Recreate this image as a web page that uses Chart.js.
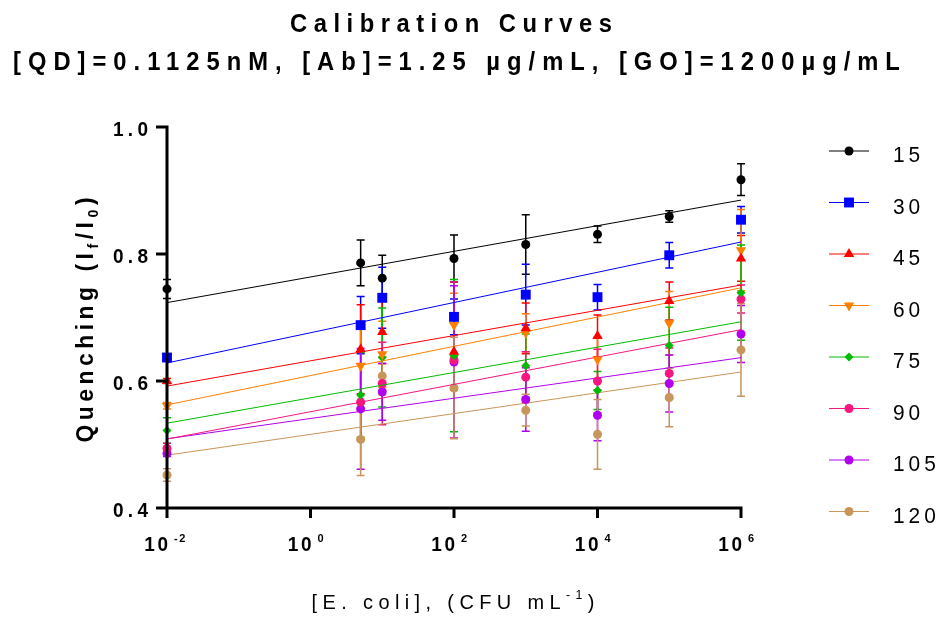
<!DOCTYPE html>
<html>
<head>
<meta charset="utf-8">
<script src="https://cdn.jsdelivr.net/npm/chart.js@4.4.0/dist/chart.umd.min.js"></script>
<style>
  html, body { margin: 0; padding: 0; background: #fff; }
  #wrap { width: 943px; height: 617px; position: relative; }
</style>
</head>
<body>
<div id="wrap"><canvas id="calib"></canvas></div>
<script>
// E. coli concentration (CFU/mL)
const concentrations = [0.01, 5, 10, 100, 1000, 10000, 100000, 1000000];
const xTickExponents = [-2, 0, 2, 4, 6];
const yTickValues = [0.4, 0.6, 0.8, 1.0];

const seriesLabels = ['15', '30', '45', '60', '75', '90', '105', '120'];

// quenching (If/I0)
const q15  = [0.745, 0.786, 0.762, 0.793, 0.815, 0.831, 0.859, 0.917];
const q30  = [0.637, 0.688, 0.731, 0.701, 0.736, 0.732, 0.798, 0.854];
const q45  = [0.600, 0.650, 0.677, 0.646, 0.683, 0.671, 0.726, 0.793];
const q60  = [0.561, 0.624, 0.642, 0.688, 0.676, 0.634, 0.691, 0.806];
const q75  = [0.522, 0.578, 0.637, 0.640, 0.624, 0.585, 0.656, 0.739];
const q90  = [0.494, 0.567, 0.596, 0.633, 0.606, 0.600, 0.612, 0.729];
const q105 = [0.486, 0.556, 0.583, 0.630, 0.571, 0.546, 0.596, 0.674];
const q120 = [0.452, 0.508, 0.608, 0.589, 0.554, 0.516, 0.574, 0.649];

// error (+/-)
const e15  = [0.015, 0.036, 0.036, 0.037, 0.047, 0.013, 0.009, 0.025];
const e30  = [0.004, 0.045, 0.048, 0.028, 0.048, 0.020, 0.020, 0.021];
const e45  = [0.004, 0.070, 0.050, 0.060, 0.040, 0.033, 0.030, 0.036];
const e60  = [0.005, 0.060, 0.052, 0.050, 0.030, 0.035, 0.050, 0.064];
const e75  = [0.020, 0.067, 0.078, 0.120, 0.050, 0.030, 0.060, 0.075];
const e90  = [0.008, 0.060, 0.065, 0.123, 0.040, 0.050, 0.040, 0.022];
const e105 = [0.005, 0.095, 0.045, 0.120, 0.050, 0.040, 0.045, 0.045];
const e120 = [0.010, 0.057, 0.030, 0.080, 0.025, 0.055, 0.046, 0.073];

const allValues = [q15, q30, q45, q60, q75, q90, q105, q120];
const allErrors = [e15, e30, e45, e60, e75, e90, e105, e120];

const colors = ['#000000', '#0000ff', '#ff0000', '#ff8000', '#00bb00', '#f5167f', '#b000ee', '#c8955a'];
const markers = [
  { style: 'circle', radius: 4.5, rotation: 0 },
  { style: 'rect', radius: 7, rotation: 0 },
  { style: 'triangle', radius: 6, rotation: 0 },
  { style: 'triangle', radius: 6, rotation: 180 },
  { style: 'rectRot', radius: 4.5, rotation: 0 },
  { style: 'circle', radius: 4.5, rotation: 0 },
  { style: 'circle', radius: 4.5, rotation: 0 },
  { style: 'circle', radius: 4.5, rotation: 0 }
];

const FONT = '"Liberation Sans", Arial, sans-serif';

// least squares fit of y against log10(x), like the original's fitted lines
function fitLine(xs, ys) {
  const lx = xs.map(v => Math.log10(v));
  const n = lx.length;
  const mx = lx.reduce((a, b) => a + b, 0) / n;
  const my = ys.reduce((a, b) => a + b, 0) / n;
  let sxy = 0, sxx = 0;
  for (let i = 0; i < n; i++) {
    sxy += (lx[i] - mx) * (ys[i] - my);
    sxx += (lx[i] - mx) * (lx[i] - mx);
  }
  const slope = sxy / sxx;
  const x0 = xs[0], x1 = xs[n - 1];
  return [
    { x: x0, y: my + slope * (Math.log10(x0) - mx) },
    { x: x1, y: my + slope * (Math.log10(x1) - mx) }
  ];
}

const datasets = [];
seriesLabels.forEach((label, i) => {
  datasets.push({
    type: 'scatter',
    label: label,
    data: concentrations.map((c, j) => ({ x: c, y: allValues[i][j] })),
    errors: allErrors[i],
    backgroundColor: colors[i],
    borderColor: colors[i],
    borderWidth: 0,
    pointStyle: markers[i].style,
    pointRadius: markers[i].radius,
    pointRotation: markers[i].rotation,
    pointHoverRadius: markers[i].radius,
    showLine: false,
    clip: false
  });
  datasets.push({
    type: 'line',
    label: label + ' fit',
    data: fitLine(concentrations, allValues[i]),
    borderColor: colors[i],
    borderWidth: 1,
    pointRadius: 0,
    fill: false,
    clip: false
  });
});

// draws text pieces in a row (for super/subscripts), squeezed by hs and
// letter-spaced so the whole thing spans "width" pixels (if given)
function drawText(ctx, parts, x, y, opts) {
  const hs = opts.hs || 1;
  let natural = 0, chars = 0;
  parts.forEach(p => {
    ctx.font = p.font;
    ctx.letterSpacing = '0px';
    p.w = ctx.measureText(p.t).width * hs;
    natural += p.w;
    chars += p.t.length;
  });
  const sp = opts.width ? (opts.width - natural) / (chars - 1) : (opts.spacing || 0);
  const total = natural + sp * (chars - 1);
  let cx = opts.align === 'center' ? x - total / 2 : (opts.align === 'right' ? x - total : x);
  ctx.textAlign = 'left';
  parts.forEach(p => {
    ctx.save();
    ctx.translate(cx, y + (p.dy || 0));
    ctx.scale(hs, 1);
    ctx.font = p.font;
    ctx.letterSpacing = (sp / hs).toFixed(2) + 'px';
    ctx.fillText(p.t, 0, 0);
    ctx.restore();
    cx += p.w + sp * p.t.length;
  });
}

const decorations = {
  id: 'decorations',
  beforeDatasetsDraw(chart) {
    const ctx = chart.ctx;
    const xs = chart.scales.x, ys = chart.scales.y;
    ctx.save();
    chart.data.datasets.forEach(ds => {
      if (!ds.errors) return;
      ctx.strokeStyle = ds.borderColor;
      ctx.lineWidth = 1.5;
      ds.data.forEach((p, j) => {
        const e = ds.errors[j];
        const px = xs.getPixelForValue(p.x);
        const top = ys.getPixelForValue(p.y + e);
        const bot = ys.getPixelForValue(p.y - e);
        ctx.beginPath();
        ctx.moveTo(px, top); ctx.lineTo(px, bot);
        ctx.moveTo(px - 4, top); ctx.lineTo(px + 4, top);
        ctx.moveTo(px - 4, bot); ctx.lineTo(px + 4, bot);
        ctx.stroke();
      });
    });
    ctx.restore();
  },
  afterDraw(chart) {
    const ctx = chart.ctx;
    const xs = chart.scales.x, ys = chart.scales.y;
    const area = chart.chartArea;
    ctx.save();
    ctx.fillStyle = '#000';
    ctx.strokeStyle = '#000';
    ctx.lineCap = 'butt';
    ctx.textBaseline = 'alphabetic';

    // axes
    ctx.lineWidth = 3;
    ctx.beginPath();
    ctx.moveTo(area.left, area.top - 1.5);
    ctx.lineTo(area.left, area.bottom + 10);
    ctx.moveTo(area.left - 11, area.bottom);
    ctx.lineTo(area.right + 1.5, area.bottom);
    yTickValues.forEach(v => {
      const py = ys.getPixelForValue(v);
      ctx.moveTo(area.left - 11, py);
      ctx.lineTo(area.left, py);
    });
    xTickExponents.forEach(e => {
      const px = xs.getPixelForValue(Math.pow(10, e));
      ctx.moveTo(px, area.bottom);
      ctx.lineTo(px, area.bottom + 10);
    });
    ctx.stroke();

    // y tick labels
    yTickValues.forEach(v => {
      drawText(ctx, [{ t: v.toFixed(1), font: 'bold 20px ' + FONT }],
        148, ys.getPixelForValue(v) + 9, { align: 'right', hs: 0.95, width: 35 });
    });

    // x tick labels 10^n
    xTickExponents.forEach(e => {
      const px = xs.getPixelForValue(Math.pow(10, e));
      drawText(ctx, [{ t: '10', font: 'bold 20px ' + FONT }], px + 1, 551, { align: 'right', hs: 0.95, spacing: 2.5 });
      drawText(ctx, [{ t: String(e), font: 'bold 11px ' + FONT }], px + 7, 542, { align: 'left', hs: 1, spacing: 1.5 });
    });

    // x axis title
    drawText(ctx, [
      { t: '[E. coli], (CFU mL', font: '21px ' + FONT },
      { t: '-1', font: '13px ' + FONT, dy: -10 },
      { t: ')', font: '21px ' + FONT }
    ], 453, 609, { align: 'center', hs: 0.95, width: 283 });

    // y axis title
    ctx.save();
    ctx.translate(93, 320);
    ctx.rotate(-Math.PI / 2);
    drawText(ctx, [
      { t: 'Quenching (I', font: 'bold 24px ' + FONT },
      { t: 'f', font: 'bold 15px ' + FONT, dy: 5 },
      { t: '/I', font: 'bold 24px ' + FONT },
      { t: '0', font: 'bold 15px ' + FONT, dy: 5 },
      { t: ')', font: 'bold 24px ' + FONT }
    ], 0, 0, { align: 'center', hs: 0.95, width: 245 });
    ctx.restore();

    // titles
    drawText(ctx, [{ t: 'Calibration Curves', font: 'bold 25px ' + FONT }], 451, 31.5, { align: 'center', hs: 0.95, width: 322 });
    drawText(ctx, [{ t: '[QD]=0.1125nM, [Ab]=1.25 µg/mL, [GO]=1200µg/mL', font: 'bold 25px ' + FONT }], 456.5, 70, { align: 'center', hs: 0.95, width: 887 });

    // legend
    seriesLabels.forEach((label, i) => {
      const ly = 151 + i * 51.5;
      ctx.strokeStyle = colors[i];
      ctx.lineWidth = 1.2;
      ctx.beginPath();
      ctx.moveTo(829, ly); ctx.lineTo(869, ly);
      ctx.stroke();
      ctx.fillStyle = colors[i];
      Chart.helpers.drawPoint(ctx, {
        pointStyle: markers[i].style,
        radius: markers[i].radius,
        rotation: markers[i].rotation,
        borderWidth: 0
      }, 849, ly);
      ctx.fillStyle = '#000';
      drawText(ctx, [{ t: label, font: '22px ' + FONT }], 893, ly + 11, { align: 'left', hs: 0.95, spacing: 4 });
    });
    ctx.restore();
  }
};

new Chart(document.getElementById('calib'), {
  type: 'scatter',
  data: { datasets: datasets },
  options: {
    responsive: true,
    maintainAspectRatio: false,
    animation: false,
    layout: { padding: { left: 167, right: 202, top: 127, bottom: 109 } },
    scales: {
      x: { type: 'logarithmic', min: 0.01, max: 1000000, display: false },
      y: { type: 'linear', min: 0.4, max: 1.0, display: false }
    },
    plugins: {
      legend: { display: false },
      title: { display: false },
      tooltip: { enabled: false }
    }
  },
  plugins: [decorations]
});
</script>
</body>
</html>
